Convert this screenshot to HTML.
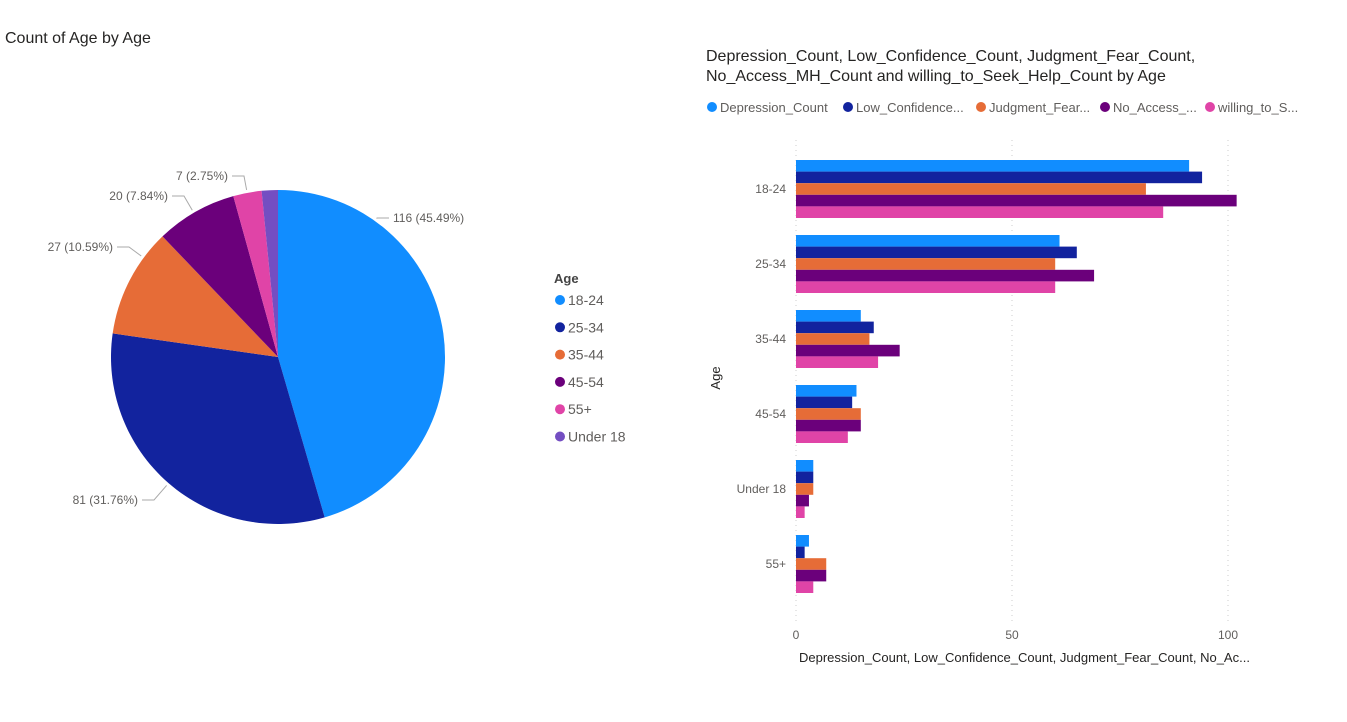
<!DOCTYPE html>
<html><head><meta charset="utf-8"><style>
body{margin:0;width:1347px;height:722px;background:#fff;overflow:hidden;font-family:"Liberation Sans",sans-serif;}
svg{position:absolute;left:0;top:0}
</style></head><body>
<svg width="1347" height="722" id="svg">
<text x="5" y="43" font-size="16" fill="#252423">Count of Age by Age</text>
<g id="pie"></g>
<g id="pieLegend"><text x="554" y="283" font-size="13" font-weight="bold" fill="#444">Age</text></g>
<text x="706" y="61" font-size="16" fill="#252423">Depression_Count, Low_Confidence_Count, Judgment_Fear_Count,</text>
<text x="706" y="81" font-size="16" fill="#252423">No_Access_MH_Count and willing_to_Seek_Help_Count by Age</text>
<g id="barLegend"></g>
<g id="bars"></g>
<text transform="translate(720,378) rotate(-90)" text-anchor="middle" font-size="13" fill="#252423">Age</text>
<text x="799" y="662" font-size="13" fill="#252423">Depression_Count, Low_Confidence_Count, Judgment_Fear_Count, No_Ac...</text>
</svg>
<script>
const pieCats=["18-24","25-34","35-44","45-54","55+","Under 18"];
const pieVals=[116,81,27,20,7,4];
const pieColors=["#118DFF","#12239E","#E66C37","#6B007B","#E044A7","#744EC2"];
const barCats=["18-24","25-34","35-44","45-54","Under 18","55+"];
const seriesNames=["Depression_Count","Low_Confidence...","Judgment_Fear...","No_Access_...","willing_to_S..."];
const depression=[91,61,15,14,4,3];
const lowConf=[94,65,18,13,4,2];
const judgment=[81,60,17,15,4,7];
const noAccess=[102,69,24,15,3,7];
const willing=[85,60,19,12,2,4];
const xTicks=[0,50,100];
const seriesColors=["#118DFF","#12239E","#E66C37","#6B007B","#E044A7"];
const NS="http://www.w3.org/2000/svg";
function mk(t,a,p){const e=document.createElementNS(NS,t);for(const k in a)e.setAttribute(k,a[k]);p.appendChild(e);return e;}
const pie=document.getElementById('pie');
const cx=278,cy=357,r=167;const total=pieVals.reduce((a,b)=>a+b,0);
let ang=0;
const labelPos=[[393,222,"start"],[138,504,"end"],[113,251,"end"],[168,200,"end"],[228,180,"end"],null];
pieVals.forEach((v,i)=>{
 const a0=ang,a1=ang+v/total*2*Math.PI;ang=a1;
 const p0=[cx+r*Math.sin(a0),cy-r*Math.cos(a0)],p1=[cx+r*Math.sin(a1),cy-r*Math.cos(a1)];
 const large=(a1-a0)>Math.PI?1:0;
 const s=mk('path',{d:`M${cx},${cy}L${p0[0]},${p0[1]}A${r},${r} 0 ${large} 1 ${p1[0]},${p1[1]}Z`,fill:pieColors[i]},pie);
 
 
 const lp=labelPos[i];
 if(lp){
  const ly=lp[1]-4;
  const lx=lp[2]=="start"?lp[0]-4:lp[0]+4;
  const ex=lx+(lp[2]=="start"?-12:12);
  const dx=ex-cx,dy=ly-cy,dl=Math.hypot(dx,dy);
  const e=[cx+dx/dl*(r+3),cy+dy/dl*(r+3)];
  const ln=mk('polyline',{points:`${e[0]},${e[1]} ${ex},${ly} ${lx},${ly}`,fill:'none',stroke:'#aaa','stroke-width':1},pie);
  
  
  const t=mk('text',{x:lp[0],y:lp[1],'font-size':12,fill:'#605E5C','text-anchor':lp[2]},pie);
  t.textContent=v+" ("+(v/total*100).toFixed(2)+"%)";
  
  
 }
});
const pl=document.getElementById('pieLegend');
pieCats.forEach((c,i)=>{
 const y=300+i*27.3;
 const d=mk('circle',{cx:560,cy:y,r:5,fill:pieColors[i]},pl);
 
 
 const t=mk('text',{x:568,y:y+5,'font-size':14,fill:'#605E5C'},pl);t.textContent=c;
 
 
});
const bl=document.getElementById('barLegend');
const lx=[712,848,981,1105,1210];
seriesNames.forEach((n,i)=>{
 const d=mk('circle',{cx:lx[i],cy:107,r:5,fill:seriesColors[i]},bl);
 
 
 const t=mk('text',{x:lx[i]+8,y:112,'font-size':13,fill:'#605E5C'},bl);t.textContent=n;
 
 
});
const bg=document.getElementById('bars');
const x0=796,pxPer=4.32;const X=v=>x0+v*pxPer;
const bandTop=151.5,band=75,bh=11.6,pad=8.5;
xTicks.forEach(t=>{
 const g=mk('line',{x1:X(t),x2:X(t),y1:140,y2:622,stroke:'#ccc','stroke-dasharray':'1,4'},bg);
 
 
 const tx=mk('text',{x:X(t),y:639,'text-anchor':'middle','font-size':12,fill:'#605E5C'},bg);tx.textContent=t;
 
 
});
const series=[depression,lowConf,judgment,noAccess,willing];
barCats.forEach((c,ci)=>{
 const gy=bandTop+ci*band;
 const t=mk('text',{x:786,y:gy+band/2+4,'text-anchor':'end','font-size':12,fill:'#605E5C'},bg);t.textContent=c;
 
 
 series.forEach((s,si)=>{
  const b=mk('rect',{x:x0,y:gy+pad+si*bh,width:s[ci]*pxPer,height:bh,fill:seriesColors[si]},bg);
  
  
 });
});
</script>
</body></html>
